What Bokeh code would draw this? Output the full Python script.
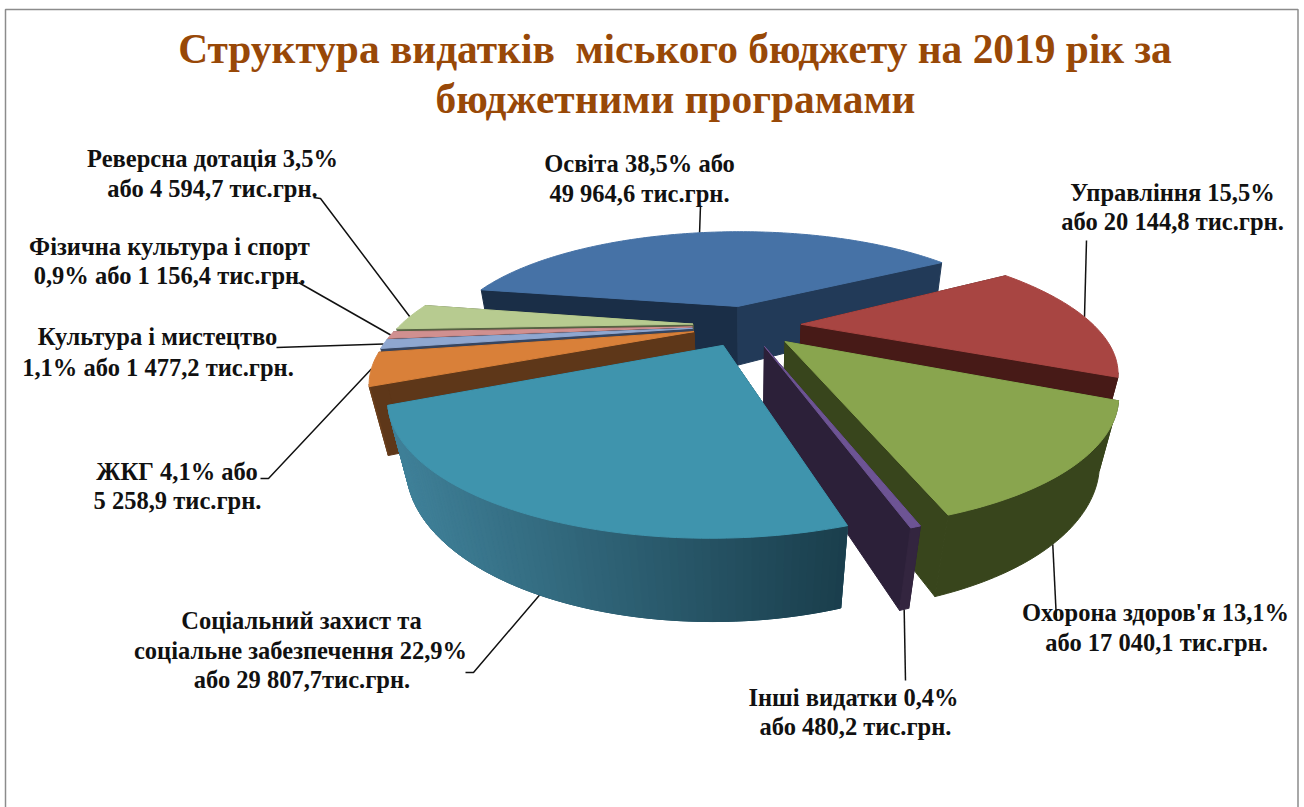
import math
from bokeh.plotting import figure
from bokeh.models import ColumnDataSource
from bokeh.core.properties import value
from bokeh.embed import file_html
from bokeh.resources import INLINE

# ---- data ----
categories = ["Освіта", "Управління", "Охорона здоров'я", "Інші видатки",
              "Соціальний захист", "ЖКГ", "Культура і мистецтво",
              "Фізична культура і спорт", "Реверсна дотація"]
amounts = [49964.6, 20144.8, 17040.1, 480.2, 29807.7, 5258.9, 1477.2, 1156.4, 4594.7]
title_lines = ["Структура видатків \u00a0міського бюджету на 2019 рік за",
               "бюджетними програмами"]
label_lines = [["Освіта 38,5% або", "49 964,6 тис.грн."],
               ["Управління 15,5%", "або 20 144,8 тис.грн."],
               ["Охорона здоров'я 13,1%", "або 17 040,1 тис.грн."],
               ["Інші видатки 0,4%", "або 480,2 тис.грн."],
               ["Соціальний захист та", "соціальне забезпечення 22,9%", "або 29 807,7тис.грн."],
               ["ЖКГ 4,1% або", "5 258,9 тис.грн."],
               ["Культура і мистецтво", "1,1% або 1 477,2 тис.грн."],
               ["Фізична культура і спорт", "0,9% або 1 156,4 тис.грн."],
               ["Реверсна дотація 3,5%", "або 4 594,7 тис.грн."]]

# ---- styles ----
top_colors  = ["#4672a6", "#a84542", "#89a54e", "#6d5494", "#3f94ad", "#d98039", "#8fa7d0", "#d09090", "#b7cb90"]
wall_a      = ["#1a2e47", "#471a17", "#38451c", "#2c2039", "#1c4250", "#5e3719", "#364560", "#55302f", "#566243"]
wall_b      = ["#223a58", "#471a17", "#38451c", "#2c2039", "#1c4250", "#5e3719", "#364560", "#55302f", "#566243"]
rim_light   = ["#223a58", "#471a17", "#38451c", "#33253f", "#3f8098", "#6b3f1c", "#364560", "#55302f", "#566243"]
rim_dark    = ["#223a58", "#471a17", "#38451c", "#33253f", "#1a3e4c", "#6b3f1c", "#364560", "#55302f", "#566243"]
draw_order  = [0, 1, 8, 7, 6, 2, 5, 3, 4]

# ---- layout: camera of the pie ----
cx, cy = 746.5, 325.0
A, B, H = 320.0, 121.0, 64.0
k, m = 0.366, 0.045
R, E = 0.915, 0.17
start_deg = 169.7

label_x = [[639, 639], [1172, 1172], [1155, 1156], [853, 855], [301, 300, 301.5], [176.5, 177], [157, 157.5], [169, 169], [212, 212]]
label_y = [[163, 193], [192, 221], [612, 642], [697, 726], [620, 650, 679], [471, 500], [336, 367], [246, 275], [158, 188]]
# where each leader leaves its slice (fraction along the arc, 0 top / 1 bottom edge), then its elbows
leader_frac = [0.496, 0.49, 0.52, 0.5, 0.495, 0.5, 0.5, 0.5, 0.5]
leader_z    = [0, 0, 1, 1, 1, 0, 0, 0, 0]
leader_elbows = [[(700, 205)], [(1086, 240)], [(1056, 620)], [(905, 680)],
                 [(473, 672), (465, 672)], [(268, 478), (260, 478)], [(276, 347)], [(298, 282)], [(320, 198), (313, 197)]]


def proj(X, Y, z):
    w = 1 + k * Y + m * z
    return cx + A * X / w, cy + (-B * Y + H * z) / w


def lerp_color(c1, c2, t):
    a = [int(c1[i:i + 2], 16) for i in (1, 3, 5)]
    b = [int(c2[i:i + 2], 16) for i in (1, 3, 5)]
    return "#%02x%02x%02x" % tuple(round(p + (q - p) * t) for p, q in zip(a, b))


total = sum(amounts)
angles = [start_deg]
for v in amounts:
    angles.append(angles[-1] - 360.0 * v / total)

xs, ys, fills = [], [], []


def add(points, color):
    xs.append([q[0] for q in points])
    ys.append([q[1] for q in points])
    fills.append(color)


geom, leader_start = {}, []
for i in range(len(amounts)):
    a0, a1 = angles[i], angles[i + 1]
    mid = math.radians((a0 + a1) / 2)
    ax, ay = E * math.cos(mid), E * math.sin(mid)
    n = max(2, int(abs(a1 - a0)) + 1)
    ts = [math.radians(a0 + (a1 - a0) * j / n) for j in range(n + 1)]
    arc = [(ax + R * math.cos(t), ay + R * math.sin(t)) for t in ts]
    geom[i] = (arc, ax, ay)
    t = math.radians(a0 + (a1 - a0) * leader_frac[i])
    leader_start.append(proj(ax + R * math.cos(t), ay + R * math.sin(t), leader_z[i]))


def faces_camera(q, r):
    # outward normal of a rim strip against the direction to the camera
    mx, my = (q[0] + r[0]) / 2, (q[1] + r[1]) / 2
    nx, ny = q[1] - r[1], r[0] - q[0]  # arc runs clockwise, so this points outward
    return nx * (0 - mx) + ny * (-1 / k - my) > 0


for i in draw_order:
    arc, ax, ay = geom[i]
    add([proj(ax, ay, 0), proj(*arc[0], 0), proj(*arc[0], 1), proj(ax, ay, 1)], wall_a[i])
    add([proj(ax, ay, 0), proj(*arc[-1], 0), proj(*arc[-1], 1), proj(ax, ay, 1)], wall_b[i])
    vis = [(q, r) for q, r in zip(arc[:-1], arc[1:]) if faces_camera(q, r)]
    if vis:
        chain = [vis[0][0]] + [r for _, r in vis]
        base = lerp_color(rim_light[i], rim_dark[i], 0.5)
        add([proj(*q, 0) for q in chain] + [proj(*q, 1) for q in reversed(chain)], base)
        if rim_light[i] != rim_dark[i]:
            for q, r in vis:
                sx = proj(*q, 0)[0]
                u = min(1.0, max(0.0, (sx - 400.0) / 450.0))
                add([proj(*q, 0), proj(*r, 0), proj(*r, 1), proj(*q, 1)], lerp_color(rim_light[i], rim_dark[i], u))
    add([proj(ax, ay, 0)] + [proj(*q, 0) for q in arc], top_colors[i])

W, HT = 1304, 807
p = figure(width=W, height=HT, x_range=(0, W), y_range=(HT, 0), output_backend="svg",
           toolbar_location=None, min_border=0, outline_line_color=None)
p.axis.visible = False
p.grid.visible = False
p.background_fill_color = "#ffffff"

# frame
p.line([5, 5, 1297.5, 1297.5], [807, 9, 9, 807], line_color="#8c8c8c", line_width=1.5)

# leader lines go under the slices so they stop at the pie's edge
lx, ly = [], []
for i, elbows in enumerate(leader_elbows):
    pts = [leader_start[i]] + elbows
    lx.append([q[0] for q in pts])
    ly.append([q[1] for q in pts])
p.multi_line(lx, ly, line_color="#111111", line_width=1.5)

src = ColumnDataSource(dict(xs=xs, ys=ys, fill=fills))
p.patches("xs", "ys", source=src, fill_color="fill", line_color="fill", line_width=1.0)

# title
p.text([674.5, 675], [48, 98], text=title_lines, text_font=value("Liberation Serif"), text_font_style="bold",
       text_font_size="41.4px", text_color="#984807", text_align="center", text_baseline="middle")

# labels
tx, ty, tt = [], [], []
for i, lines in enumerate(label_lines):
    for line, x, y in zip(lines, label_x[i], label_y[i]):
        tx.append(x); ty.append(y); tt.append(line)
p.text(tx, ty, text=tt, text_font=value("Liberation Serif"), text_font_style="bold",
       text_font_size="24.5px", text_color="#111111", text_align="center", text_baseline="middle")

open("out.html", "w").write(file_html(p, INLINE))
